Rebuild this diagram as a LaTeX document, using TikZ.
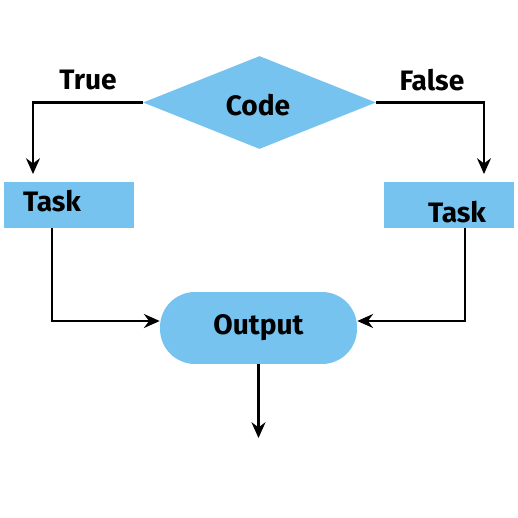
\documentclass[tikz,border=0pt]{standalone}
\usepackage{fontspec}
\setmainfont{Fira Sans}
\usetikzlibrary{shapes,positioning,arrows.meta}
\definecolor{skyblue}{HTML}{76C3F0}

\begin{document}
\begin{tikzpicture}[x=0.02cm,y=-0.02cm,
  lbl/.style={font=\fontsize{16}{18}\selectfont\bfseries},
  taskbox/.style={fill=skyblue,minimum width=2.6cm,minimum height=0.92cm,inner sep=0},
  conn/.style={line width=1.2pt,-{Stealth[length=9pt,width=8pt,inset=3pt]}}]
\useasboundingbox (0,0) rectangle (518,518);
\node[diamond,fill=skyblue,minimum width=4.66cm,minimum height=1.86cm,inner sep=0] (code) at (259.5,102.5) {};
\node[lbl] (codetxt) at (258,105) {Code};
\node[taskbox] (taskL) at (69,205) {};
\node[taskbox] (taskR) at (449,205) {};
\node[lbl] (taskLtxt) at (52,201) {Task};
\node[lbl] (taskRtxt) at (457,212) {Task};
\node[fill=skyblue,rounded corners=0.7cm,minimum width=3.94cm,minimum height=1.44cm,inner sep=0,lbl] (out) at (258.5,328) {Output};
\node[lbl] (true) at (88,80) {True};
\node[lbl] (false) at (432,80) {False};
\coordinate (trueEnd) at (33,174);
\coordinate (falseEnd) at (484,174);
\coordinate (outEnd) at (258.5,438);
% branches
\draw[conn] (code.west) -| (trueEnd);
\draw[conn] (code.east) -| (falseEnd);
\draw[conn] ([shift={(-17,0)}]taskL.south) |- ([shift={(0,-7)}]out.west);
\draw[conn] ([shift={(16,0)}]taskR.south) |- ([shift={(0,-7)}]out.east);
\draw[conn] (out.south) -- (outEnd);
\end{tikzpicture}
\end{document}
